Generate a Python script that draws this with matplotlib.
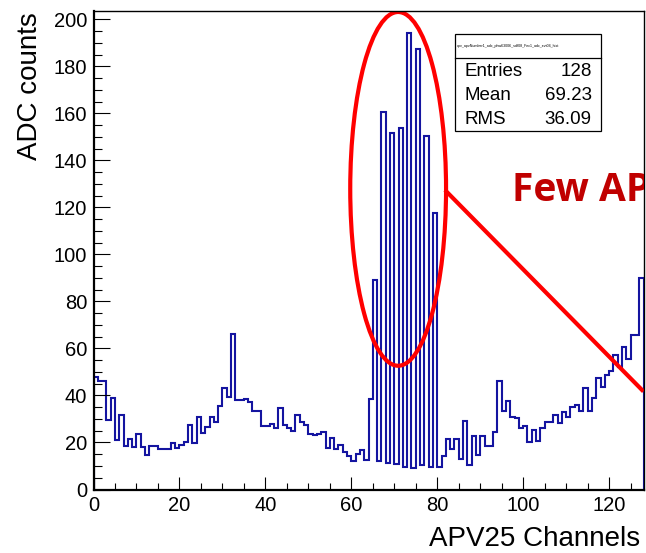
import numpy as np
import matplotlib
matplotlib.use("Agg")
import matplotlib.pyplot as plt
from matplotlib.patches import Ellipse, Rectangle
from matplotlib.ticker import MultipleLocator

plt.rcParams['font.family'] = ['Liberation Sans', 'DejaVu Sans']

# ADC counts per APV25 channel (128 channels)
adc_counts = [
    47.7, 46.3, 46.3, 29.6, 39.1, 21.1, 31.7, 18.5, 21.5, 18.0,
    23.6, 18.0, 14.7, 18.5, 18.5, 17.1, 17.1, 17.1, 19.6, 17.6,
    18.9, 20.4, 27.4, 19.7, 30.7, 23.9, 26.7, 31.0, 28.9, 35.5,
    43.0, 39.2, 66.2, 38.1, 38.1, 38.5, 37.4, 33.5, 33.5, 27.0,
    27.0, 27.7, 26.0, 34.8, 27.4, 26.0, 24.9, 31.7, 28.9, 27.4,
    23.6, 23.2, 23.6, 24.6, 17.6, 21.7, 17.1, 18.9, 16.1, 14.3,
    12.3, 15.0, 16.8, 12.6, 38.6, 89.1, 12.1, 160.8, 11.1, 151.6,
    10.9, 153.7, 9.7, 194.4, 9.0, 187.3, 10.4, 150.4, 9.7, 117.8,
    9.4, 14.4, 21.5, 17.1, 21.5, 13.0, 29.3, 10.4, 22.9, 14.8,
    22.6, 18.3, 18.3, 24.6, 46.2, 33.5, 37.8, 31.0, 30.5, 26.2,
    27.1, 20.2, 25.3, 20.7, 26.3, 28.9, 28.9, 31.7, 28.2, 32.8,
    31.0, 35.2, 36.0, 33.5, 43.0, 33.5, 38.8, 47.3, 43.5, 48.7,
    50.4, 57.2, 52.3, 60.5, 55.6, 65.7, 65.7, 90.0,
]
channel_edges = np.arange(0, len(adc_counts) + 1)

stats_title = "apv_apvNumber1_adc_phw63006_sdf08_Fec1_adc_evt04_hist"
stats_labels = ["Entries", "Mean", "RMS"]
stats_values = ["128", "69.23", "36.09"]

fig = plt.figure(figsize=(6.46, 5.53), dpi=100)
ax = fig.add_axes([93.5 / 646, 1 - 489.5 / 553, 550 / 646, 478.8 / 553])

ax.stairs(adc_counts, channel_edges, baseline=0, color='#1414a0', lw=1.5)

ax.set_xlim(0, 128)
ax.set_ylim(0, 203.7)
ax.xaxis.set_major_locator(MultipleLocator(20))
ax.xaxis.set_minor_locator(MultipleLocator(5))
ax.yaxis.set_major_locator(MultipleLocator(20))
ax.yaxis.set_minor_locator(MultipleLocator(5))
ax.tick_params(axis='x', which='major', direction='in', length=9.4, width=0.8,
               labelsize=14.5, pad=5)
ax.tick_params(axis='x', which='minor', direction='in', length=5, width=0.8)
ax.tick_params(axis='y', which='major', direction='in', length=11.5, width=0.8,
               labelsize=14.5, pad=4.5)
ax.tick_params(axis='y', which='minor', direction='in', length=5.8, width=0.8)
ax.yaxis.get_major_ticks()[0].label1.set_visible(False)
for side in ['left', 'bottom']:
    ax.spines[side].set_linewidth(1.6)
for side in ['top', 'right']:
    ax.spines[side].set_linewidth(1.0)

# annotation: ellipse round the noisy channels, line and text
ax.add_patch(Ellipse((70.9, 127.9), 22.3, 150.5, fill=False, ec='#ff0000', lw=3))
ax.plot([81.8, 128], [127.4, 41.7], color='#ff0000', lw=3, solid_capstyle='butt')
ax.text(97.4, 122.8, "Few AP", color='#c00000', fontsize=28,
        fontweight='bold', family=['Open Sans', 'DejaVu Sans'],
        ha='left', va='baseline', clip_on=True)

# axis titles
fig.text(30 / 646, 1 - 12 / 553, "ADC counts", rotation=90, fontsize=20,
         ha='center', va='top')
fig.text(640 / 646, 1 - 552 / 553, "APV25 Channels", fontsize=20,
         ha='right', va='bottom')

# stats box
bx0, bx1 = 455 / 646, 600.7 / 646
by0, by1 = 1 - 131 / 553, 1 - 34.3 / 553
fig.add_artist(Rectangle((bx0, by0), bx1 - bx0, by1 - by0, transform=fig.transFigure,
                         facecolor='white', edgecolor='black', lw=0.9))
sep_y = 1 - 58.3 / 553
fig.add_artist(plt.Line2D([bx0, bx1], [sep_y, sep_y], transform=fig.transFigure,
                          color='black', lw=0.9))
fig.text(457 / 646, 1 - 46 / 553, stats_title, fontsize=2.6, ha='left', va='center')
row_y = [71.7, 95.7, 119.5]
for lab, val, py in zip(stats_labels, stats_values, row_y):
    fig.text(464 / 646, 1 - py / 553, lab, fontsize=13.5, ha='left', va='center')
    fig.text(591.7 / 646, 1 - py / 553, val, fontsize=13.5, ha='right', va='center')

fig.savefig("out.png", dpi=100)
